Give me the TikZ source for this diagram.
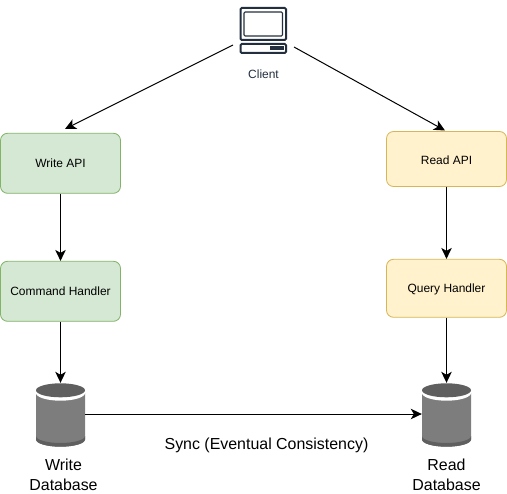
\documentclass[tikz,border=0pt]{standalone}
\usepackage{fontspec}
\setmainfont{Liberation Sans}
\usepackage{xcolor}
\usetikzlibrary{arrows.meta,positioning,calc}
\definecolor{writefill}{HTML}{D5E8D4}
\definecolor{writeedge}{HTML}{82B366}
\definecolor{readfill}{HTML}{FFF2CC}
\definecolor{readedge}{HTML}{D6B656}
\definecolor{iconcol}{HTML}{232F3E}
\definecolor{dbbody}{HTML}{7D7D7D}
\definecolor{dbdark}{HTML}{5F5F5F}

\begin{document}
\begin{tikzpicture}[x=1bp,y=-1bp,
  write/.style={draw=writeedge,fill=writefill,line width=0.8bp,rounded corners=7bp,
                minimum width=120bp,minimum height=60bp,inner sep=0pt,
                text height=9pt,text depth=0pt,font=\fontsize{12}{14}\selectfont},
  read/.style={draw=readedge,fill=readfill,line width=0.8bp,rounded corners=7bp,
               minimum width=120bp,minimum height=58bp,inner sep=0pt,
               text height=9pt,text depth=0pt,font=\fontsize{12}{14}\selectfont},
  dblab/.style={align=center,font=\fontsize{16}{19.5}\selectfont,inner sep=0pt},
  conn/.style={draw=black,line width=1bp,-{Stealth[length=11bp,width=10.5bp,inset=3bp]}},
  icon/.style={draw=iconcol,line width=2bp,rounded corners=1.2bp}
]
  \useasboundingbox (0,0) rectangle (507,494);

  % client icon
  \draw[icon] (240.5,8) rectangle (286,40);
  \draw[icon,line width=1.1bp] (244,12) rectangle (282.5,36);
  \draw[icon] (240.5,44) rectangle (286,53);
  \fill[iconcol] (270,46.5) rectangle (284,50.5);
  \node[text=iconcol,font=\fontsize{12}{14}\selectfont,inner sep=0pt] (client) at (263.5,74) {Client};
  \coordinate (clientleft) at (233,45);
  \coordinate (clientright) at (294,47);
  \coordinate (writetip) at (65,129);
  \coordinate (readtip) at (445,130.5);

  \node[write] (writeapi) at (60.5,163.3) {Write API};
  \node[write] (cmdhandler) at (60.5,291.3) {Command Handler};
  \node[read,minimum height=55bp,text height=11pt] (readapi) at (446.5,159) {Read API};
  \node[read] (queryhandler) at (446.5,288.3) {Query Handler};

  % databases
  \foreach \nm/\cx in {writedb/60.5,readdb/446.5}{
    \fill[dbbody] (\cx-24.5,393) -- (\cx-24.5,439.5) arc[start angle=180,end angle=360,x radius=24.5,y radius=-7.2] -- (\cx+24.5,393) -- cycle;
    \fill[dbdark] (\cx-24.5,436) -- (\cx-24.5,439.5) arc[start angle=180,end angle=360,x radius=24.5,y radius=-7.2] -- (\cx+24.5,436) arc[start angle=360,end angle=180,x radius=24.5,y radius=-7] -- cycle;
    \fill[white] (\cx-24.5,390.7) -- (\cx-24.5,393) arc[start angle=180,end angle=360,x radius=24.5,y radius=-7.7] -- (\cx+24.5,390.7) -- cycle;
    \fill[dbdark] (\cx,390.3) ellipse[x radius=24.5,y radius=7];
    \node[minimum width=49bp,minimum height=62bp,inner sep=0pt] (\nm) at (\cx,414) {};
  }
  \node[dblab,below=14bp of writedb,xshift=3bp] (writelab) {Write\\Database};
  \node[dblab,below=14bp of readdb] (readlab) {Read\\Database};
  \node[font=\fontsize{16}{18}\selectfont,inner sep=0pt] (synclab) at (266.5,445.5) {Sync (Eventual Consistency)};

  \draw[conn] (clientleft) -- (writetip);
  \draw[conn] (clientright) -- (readtip);
  \draw[conn] (writeapi) -- (cmdhandler);
  \draw[conn] (cmdhandler) -- (writedb);
  \draw[conn] (readapi) -- (queryhandler);
  \draw[conn] (queryhandler) -- (readdb);
  \draw[conn] (writedb) -- (readdb);
\end{tikzpicture}
\end{document}
